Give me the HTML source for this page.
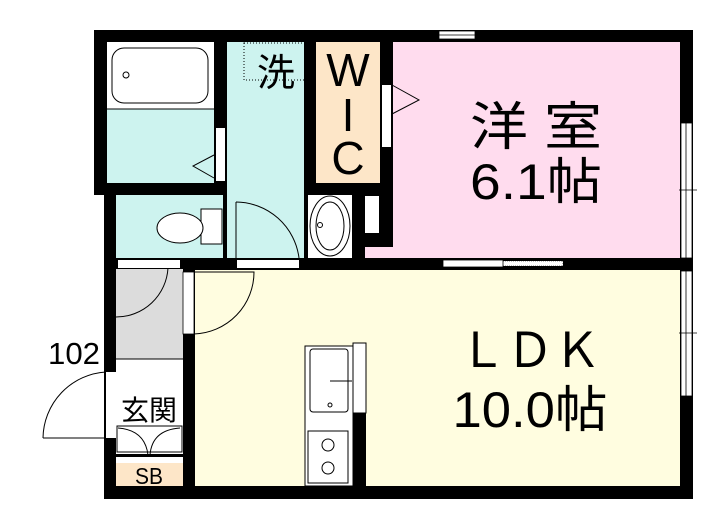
<!DOCTYPE html>
<html><head><meta charset="utf-8"><style>body{margin:0;background:#fff}svg{display:block}</style></head><body>
<svg width="717" height="519" viewBox="0 0 717 519" xmlns="http://www.w3.org/2000/svg" font-family="'Liberation Sans','Noto Sans CJK JP',sans-serif">
<rect x="94" y="30" width="599" height="165" fill="#000"/>
<rect x="104" y="183" width="589" height="316" fill="#000"/>
<rect x="393" y="42" width="287" height="216" fill="#ffdcee"/>
<rect x="365" y="247" width="30" height="11" fill="#ffdcee"/>
<rect x="195" y="270" width="485" height="216" fill="#fffde0"/>
<rect x="107" y="42" width="107" height="141" fill="#cdf3ef"/>
<rect x="107" y="42" width="107" height="67" fill="#fff"/>
<rect x="112" y="48" width="96" height="55" rx="12" fill="none" stroke="#000"/>
<circle cx="126" cy="75" r="3" fill="none" stroke="#000"/>
<line x1="107" y1="109" x2="214" y2="109" stroke="#000" stroke-width="1"/>
<rect x="216" y="128" width="9" height="53" fill="#fff"/>
<polyline points="214,155 193,166 214,178" fill="none" stroke="#000" stroke-width="1"/>
<rect x="116" y="195" width="107" height="63" fill="#cdf3ef"/>
<rect x="201" y="209" width="21" height="35" fill="#fff" stroke="#000" stroke-width="1"/>
<ellipse cx="180" cy="228" rx="23" ry="15" fill="#fff" stroke="#000" stroke-width="1"/>
<rect x="227" y="42" width="77" height="216" fill="#cdf3ef"/>
<rect x="235" y="183" width="69" height="75" fill="#cdf3ef"/>
<rect x="244" y="43" width="67" height="37" fill="none" stroke="#000" stroke-width="1" stroke-dasharray="1,2"/>
<text x="276" y="86" font-size="38" text-anchor="middle">洗</text>
<path d="M236,202 A64,64 0 0 1 299,258" fill="none" stroke="#000" stroke-width="1"/>
<line x1="236" y1="202" x2="236" y2="258" stroke="#000" stroke-width="1"/>
<rect x="308" y="195" width="44" height="63" fill="#fff"/>
<ellipse cx="330" cy="226" rx="20" ry="30" fill="none" stroke="#000" stroke-width="1"/>
<ellipse cx="330" cy="226" rx="14" ry="24" fill="none" stroke="#000" stroke-width="1"/>
<circle cx="320" cy="225" r="2.5" fill="none" stroke="#000"/>
<rect x="316" y="42" width="64" height="141" fill="#fde6c8"/>
<text x="348" y="86" font-size="46" text-anchor="middle">W</text>
<text x="348" y="131" font-size="46" text-anchor="middle">I</text>
<text x="348" y="174" font-size="46" text-anchor="middle">C</text>
<rect x="382" y="85" width="9" height="62" fill="#fff"/>
<polyline points="392,85 419,100 392,114" fill="none" stroke="#000" stroke-width="1"/>
<rect x="365" y="196" width="14" height="37" fill="#fff"/>
<rect x="118" y="260" width="62" height="8" fill="#fff"/>
<rect x="237" y="260" width="62" height="8" fill="#fff"/>
<rect x="443" y="261" width="120" height="5" fill="#fff" stroke="#000" stroke-width="0.6" stroke-dasharray="1,1"/>
<rect x="443" y="260" width="60" height="7" fill="#fff" stroke="#000" stroke-width="0.8"/>
<rect x="439" y="31" width="36" height="8" fill="#fff" stroke="#000" stroke-width="0.8"/>
<line x1="439" y1="35" x2="475" y2="35" stroke="#000" stroke-width="0.8"/>
<rect x="681" y="123" width="11" height="135" fill="#fff" stroke="#000" stroke-width="0.8"/>
<line x1="686" y1="123" x2="686" y2="258" stroke="#000" stroke-width="0.8"/>
<rect x="681" y="271" width="11" height="125" fill="#fff" stroke="#000" stroke-width="0.8"/>
<line x1="686" y1="271" x2="686" y2="396" stroke="#000" stroke-width="0.8"/>
<line x1="679" y1="190" x2="697" y2="190" stroke="#000" stroke-width="0.8"/>
<line x1="679" y1="333" x2="697" y2="333" stroke="#000" stroke-width="0.8"/>
<rect x="116" y="269" width="67" height="90" fill="#dcdcdc"/>
<rect x="116" y="359" width="67" height="97" fill="#fff"/>
<line x1="116" y1="359" x2="183" y2="359" stroke="#000" stroke-width="1"/>
<path d="M116,317 A52,52 0 0 0 168,268" fill="none" stroke="#000" stroke-width="1"/>
<rect x="183" y="272" width="11" height="62" fill="#fff" stroke="#000" stroke-width="0.8"/>
<path d="M194,334 A62,62 0 0 0 254,272 L194,272" fill="none" stroke="#000" stroke-width="1"/>
<text x="149" y="420" font-size="28" text-anchor="middle">玄関</text>
<rect x="117" y="426" width="65" height="26" fill="none" stroke="#000" stroke-width="1"/>
<path d="M118,428 Q145,430 148,455 M180,428 Q152,430 150,455" fill="none" stroke="#000" stroke-width="1"/>
<rect x="116" y="454" width="67" height="3" fill="#000"/>
<rect x="116" y="457" width="67" height="6" fill="#fff"/>
<rect x="116" y="463" width="67" height="23" fill="#fde6c8"/>
<text x="149" y="484" font-size="23" text-anchor="middle" textLength="28" lengthAdjust="spacingAndGlyphs">SB</text>
<rect x="106" y="372" width="10" height="66" fill="#fff"/>
<path d="M43,438 A67,67 0 0 1 106,372" fill="none" stroke="#000" stroke-width="1"/>
<line x1="43" y1="438" x2="106" y2="438" stroke="#000" stroke-width="1"/>
<text x="74" y="364" font-size="31" text-anchor="middle" textLength="52" lengthAdjust="spacingAndGlyphs">102</text>
<rect x="305" y="346" width="48" height="140" fill="#fff" stroke="#000" stroke-width="1"/>
<rect x="310" y="349" width="38" height="63" rx="3" fill="none" stroke="#000" stroke-width="1"/>
<line x1="330" y1="381" x2="352" y2="381" stroke="#000" stroke-width="1"/>
<circle cx="330" cy="405" r="2" fill="none" stroke="#000"/>
<rect x="308" y="431" width="40" height="52" fill="none" stroke="#000" stroke-width="1"/>
<circle cx="328" cy="445" r="6" fill="none" stroke="#000" stroke-width="1"/>
<circle cx="328" cy="468" r="6" fill="none" stroke="#000" stroke-width="1"/>
<rect x="353" y="343" width="13" height="70" fill="#fff" stroke="#000" stroke-width="1"/>
<rect x="353" y="413" width="13" height="73" fill="#000"/>
<text x="536" y="145" font-size="52" text-anchor="middle" textLength="132" lengthAdjust="spacingAndGlyphs">洋 室</text>
<text x="536" y="199" font-size="50" text-anchor="middle" textLength="132" lengthAdjust="spacingAndGlyphs">6.1帖</text>
<text x="530" y="367" font-size="48" text-anchor="middle" textLength="142" lengthAdjust="spacingAndGlyphs">ＬＤＫ</text>
<text x="530" y="427" font-size="50" text-anchor="middle" textLength="155" lengthAdjust="spacingAndGlyphs">10.0帖</text>
</svg>
</body></html>
